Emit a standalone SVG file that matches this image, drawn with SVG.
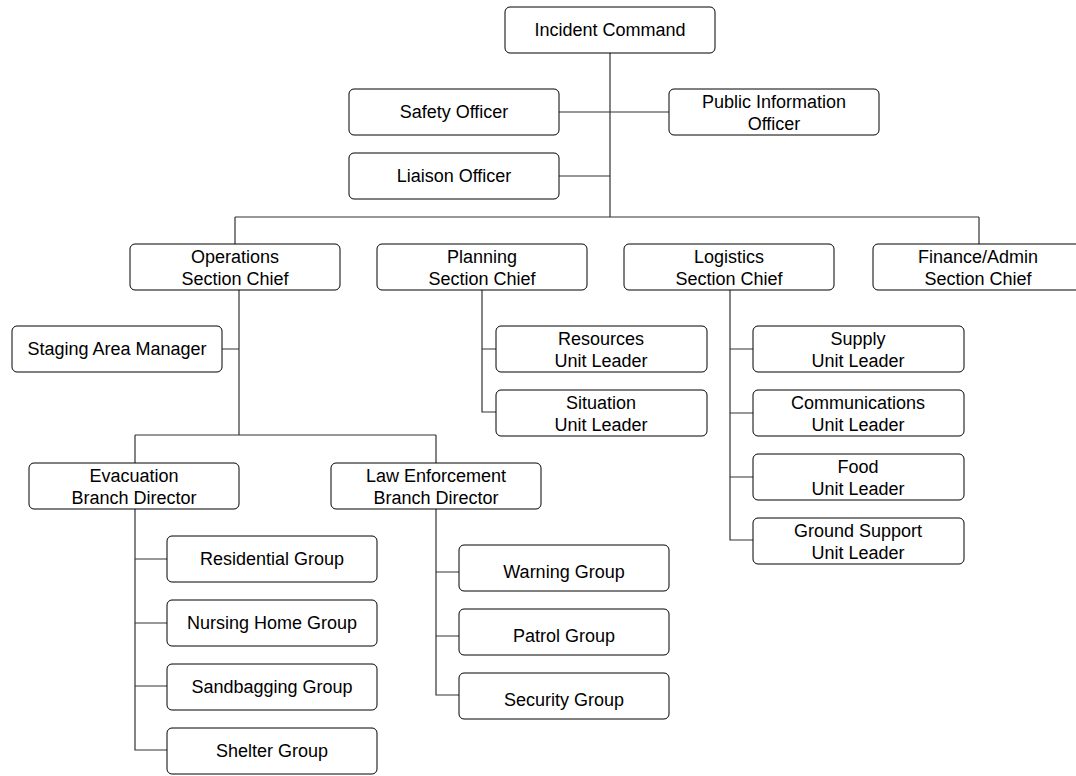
<svg xmlns="http://www.w3.org/2000/svg" width="1076" height="776" viewBox="0 0 1076 776">
<style>
.b{fill:#fff;stroke:#000;stroke-width:1}
.t{font-family:"Liberation Sans",Arial,sans-serif;font-size:18px;fill:#000;text-anchor:middle}
.c{stroke:#333;stroke-width:1.2;fill:none}
</style>
<rect width="1076" height="776" fill="#fff"/>
<g id="connectors" class="c">
<path d="M610 53V217M559 112H669M559 176H610M235 217H979M235 217V244M979 217V244"/>
<path d="M239 290V435M222 349H239M135 435H436M135 435V463M436 435V463"/>
<path d="M482 290V412H496M482 349H496"/>
<path d="M730 290V540H753M730 349H753M730 413H753M730 477H753"/>
<path d="M135 509V750H167M135 559H167M135 623H167M135 686H167"/>
<path d="M436 509V695H459M436 572H459M436 636H459"/>
</g>
<g id="incident"><rect class="b" x="505" y="7" width="210" height="46" rx="5"/><text class="t" x="610" y="36">Incident Command</text></g>
<g id="safety"><rect class="b" x="349" y="89" width="210" height="46" rx="5"/><text class="t" x="454" y="118">Safety Officer</text></g>
<g id="pio"><rect class="b" x="669" y="89" width="210" height="46" rx="5"/><text class="t" x="774" y="108">Public Information</text><text class="t" x="774" y="130">Officer</text></g>
<g id="liaison"><rect class="b" x="349" y="153" width="210" height="46" rx="5"/><text class="t" x="454" y="182">Liaison Officer</text></g>
<g id="operations"><rect class="b" x="130" y="244" width="210" height="46" rx="5"/><text class="t" x="235" y="263">Operations</text><text class="t" x="235" y="285">Section Chief</text></g>
<g id="planning"><rect class="b" x="377" y="244" width="210" height="46" rx="5"/><text class="t" x="482" y="263">Planning</text><text class="t" x="482" y="285">Section Chief</text></g>
<g id="logistics"><rect class="b" x="624" y="244" width="210" height="46" rx="5"/><text class="t" x="729" y="263">Logistics</text><text class="t" x="729" y="285">Section Chief</text></g>
<g id="finance"><rect class="b" x="873" y="244" width="210" height="46" rx="5"/><text class="t" x="978" y="263">Finance/Admin</text><text class="t" x="978" y="285">Section Chief</text></g>
<g id="staging"><rect class="b" x="12" y="326" width="210" height="46" rx="5"/><text class="t" x="117" y="355">Staging Area Manager</text></g>
<g id="resources"><rect class="b" x="496" y="326" width="211" height="46" rx="5"/><text class="t" x="601" y="345">Resources</text><text class="t" x="601" y="367">Unit Leader</text></g>
<g id="situation"><rect class="b" x="496" y="390" width="211" height="46" rx="5"/><text class="t" x="601" y="409">Situation</text><text class="t" x="601" y="431">Unit Leader</text></g>
<g id="supply"><rect class="b" x="753" y="326" width="211" height="46" rx="5"/><text class="t" x="858" y="345">Supply</text><text class="t" x="858" y="367">Unit Leader</text></g>
<g id="communications"><rect class="b" x="753" y="390" width="211" height="46" rx="5"/><text class="t" x="858" y="409">Communications</text><text class="t" x="858" y="431">Unit Leader</text></g>
<g id="food"><rect class="b" x="753" y="454" width="211" height="46" rx="5"/><text class="t" x="858" y="473">Food</text><text class="t" x="858" y="495">Unit Leader</text></g>
<g id="ground"><rect class="b" x="753" y="518" width="211" height="46" rx="5"/><text class="t" x="858" y="537">Ground Support</text><text class="t" x="858" y="559">Unit Leader</text></g>
<g id="evacuation"><rect class="b" x="29" y="463" width="210" height="46" rx="5"/><text class="t" x="134" y="482">Evacuation</text><text class="t" x="134" y="504">Branch Director</text></g>
<g id="law"><rect class="b" x="331" y="463" width="210" height="46" rx="5"/><text class="t" x="436" y="482">Law Enforcement</text><text class="t" x="436" y="504">Branch Director</text></g>
<g id="residential"><rect class="b" x="167" y="536" width="210" height="46" rx="5"/><text class="t" x="272" y="565">Residential Group</text></g>
<g id="nursing"><rect class="b" x="167" y="600" width="210" height="46" rx="5"/><text class="t" x="272" y="629">Nursing Home Group</text></g>
<g id="sandbagging"><rect class="b" x="167" y="664" width="210" height="46" rx="5"/><text class="t" x="272" y="693">Sandbagging Group</text></g>
<g id="shelter"><rect class="b" x="167" y="728" width="210" height="46" rx="5"/><text class="t" x="272" y="757">Shelter Group</text></g>
<g id="warning"><rect class="b" x="459" y="545" width="210" height="46" rx="5"/><text class="t" x="564" y="578">Warning Group</text></g>
<g id="patrol"><rect class="b" x="459" y="609" width="210" height="46" rx="5"/><text class="t" x="564" y="642">Patrol Group</text></g>
<g id="security"><rect class="b" x="459" y="673" width="210" height="46" rx="5"/><text class="t" x="564" y="706">Security Group</text></g>
</svg>
